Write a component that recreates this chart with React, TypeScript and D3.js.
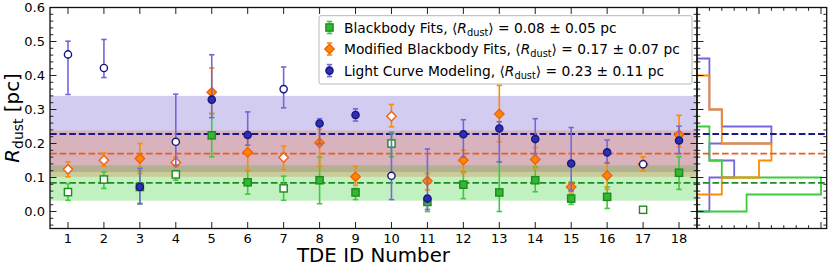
import React from 'react';
import * as d3 from 'd3';

// ---------- data ----------
const ids = [1, 2, 3, 4, 5, 6, 7, 8, 9, 10, 11, 12, 13, 14, 15, 16, 17, 18];
const openIds = [1, 2, 4, 7, 10, 17];

const bbVal = [0.057, 0.094, 0.072, 0.109, 0.224, 0.086, 0.068, 0.092, 0.056, 0.2, 0.028, 0.079, 0.056, 0.092, 0.038, 0.043, 0.005, 0.114];
const bbHi = [0.025, 0.022, 0.048, 0.012, 0.064, 0.035, 0.036, 0.068, 0.012, 0.034, 0.015, 0.038, 0.09, 0.039, 0.013, 0.029, 0, 0.047];
const bbLo = [0.024, 0.026, 0.048, 0.017, 0.063, 0.035, 0.035, 0.069, 0.021, 0.039, 0.028, 0.041, 0.056, 0.034, 0.017, 0.034, 0, 0.049];

const mbVal = [0.124, 0.151, 0.156, 0.144, 0.351, 0.174, 0.159, 0.202, 0.102, 0.28, 0.09, 0.151, 0.287, 0.153, 0.072, 0.106, 0.139, 0.226];
const mbHi = [0.022, 0.021, 0.044, 0.016, 0.071, 0.045, 0.033, 0.04, 0.031, 0.035, 0.022, 0.029, 0.084, 0.035, 0.015, 0.039, 0.022, 0.057];
const mbLo = [0.022, 0.018, 0.044, 0.013, 0.063, 0.053, 0.036, 0.069, 0.025, 0.031, 0.027, 0.037, 0.082, 0.029, 0.014, 0.041, 0.02, 0.036];

const lcVal = [0.462, 0.422, 0.072, 0.205, 0.329, 0.225, 0.36, 0.259, 0.284, 0.105, 0.038, 0.227, 0.244, 0.213, 0.141, 0.174, 0.139, 0.209];
const lcHi = [0.039, 0.084, 0.055, 0.14, 0.132, 0.068, 0.065, 0.014, 0.018, 0.125, 0.146, 0.043, 0.02, 0.06, 0.106, 0.036, 0.008, 0.042];
const lcLo = [0.118, 0.028, 0.05, 0.069, 0.053, 0.03, 0.055, 0.06, 0.018, 0.07, 0.032, 0.067, 0.098, 0.043, 0.08, 0.032, 0.009, 0.039];

const means = [0.084, 0.17, 0.228];
const stds = [0.052, 0.068, 0.112];

const binEdges = [0, 0.05, 0.1, 0.15, 0.2, 0.25, 0.3, 0.35, 0.4, 0.45];
const histBB = [4, 10, 2, 1, 1, 0, 0, 0, 0];
const histMB = [0, 2, 5, 6, 2, 2, 1, 1, 0];
const histLC = [1, 1, 3, 1, 6, 2, 1, 1, 1];

const xTicks = ids;
const yMajor = [0, 0.1, 0.2, 0.3, 0.4, 0.5, 0.6];
const histTicks = [1, 2, 3, 4, 5, 6, 7, 8, 9, 10];

// ---------- styles ----------
const FONT = 'DejaVu Sans, sans-serif';
const C = {
  bbFill: '#33b833', bbEdge: '#1f8a1f', bbErr: '#3ccc3c', bbMean: '#228b22', bbBand: '#32cd32', bbHist: '#3ccc3c',
  mbFill: '#ff8800', mbEdge: '#f06010', mbErr: '#ff8c00', mbMean: '#e8601e', mbBand: '#eb641e', mbHist: '#ff8c00',
  lcFill: '#2e2eb0', lcEdge: '#16167e', lcErr: '#7466dd', lcMean: '#1a1a8a', lcBand: '#6a5acd', lcHist: '#7466dd',
};

const L = 50, R = 697, T = 7.5, B = 228.5, HR = 826.7;

const x = d3.scaleLinear().domain([0.5, 18.5]).range([L, R]);
const y = d3.scaleLinear().domain([-0.05, 0.6]).range([B, T]);
const hx = d3.scaleLinear().domain([0, 10.46]).range([R, HR]);

const yMinor = d3.range(-0.04, 0.6001, 0.02).map((v) => Math.round(v * 100) / 100);

function Marker({ kind, cx, cy, open, fill, edge }: any) {
  const f = open ? '#ffffff' : fill;
  if (kind === 'square') {
    return <rect x={cx - 3.6} y={cy - 3.6} width={7.2} height={7.2} fill={f} stroke={edge} strokeWidth={1.4} />;
  }
  if (kind === 'diamond') {
    const r = 4.7;
    return <path d={`M${cx},${cy - r}L${cx + r},${cy}L${cx},${cy + r}L${cx - r},${cy}Z`} fill={f} stroke={edge} strokeWidth={1.4} />;
  }
  return <circle cx={cx} cy={cy} r={3.6} fill={f} stroke={edge} strokeWidth={1.4} />;
}

function ErrSeries({ vals, hi, lo, kind, fill, edge, err }: any) {
  return (
    <g>
      {ids.map((id, i) => {
        const cx = x(id);
        const y1 = y(vals[i] + hi[i]);
        const y2 = y(vals[i] - lo[i]);
        const hasErr = hi[i] > 0 || lo[i] > 0;
        return (
          <g key={id}>
            {hasErr && (
              <g stroke={err} strokeWidth={1.6}>
                <line x1={cx} x2={cx} y1={y1} y2={y2} />
                <line x1={cx - 2.7} x2={cx + 2.7} y1={y1} y2={y1} />
                <line x1={cx - 2.7} x2={cx + 2.7} y1={y2} y2={y2} />
              </g>
            )}
            <Marker kind={kind} cx={cx} cy={y(vals[i])} open={openIds.includes(id)} fill={fill} edge={edge} />
          </g>
        );
      })}
    </g>
  );
}

function stepPath(counts: number[]) {
  const pts: [number, number][] = [[hx(0), y(binEdges[0])]];
  counts.forEach((c, i) => {
    pts.push([hx(c), y(binEdges[i])]);
    pts.push([hx(c), y(binEdges[i + 1])]);
  });
  pts.push([hx(0), y(binEdges[binEdges.length - 1])]);
  return d3.line()(pts) as string;
}

function LegendRow({ cy, label, mean, std, kind, fill, edge, err }: any) {
  const mx = 329.5;
  return (
    <g>
      <g stroke={err} strokeWidth={1.6}>
        <line x1={mx} x2={mx} y1={cy - 6} y2={cy + 6} />
        <line x1={mx - 2.7} x2={mx + 2.7} y1={cy - 6} y2={cy - 6} />
        <line x1={mx - 2.7} x2={mx + 2.7} y1={cy + 6} y2={cy + 6} />
      </g>
      <Marker kind={kind} cx={mx} cy={cy} open={false} fill={fill} edge={edge} />
      <text x={344} y={cy + 5} fontSize={13.8} fontFamily={FONT} fill="#000">
        {label + ', \u27E8'}
        <tspan fontStyle="italic">R</tspan>
        <tspan fontSize={9.8} dy={3}>dust</tspan>
        <tspan dy={-3}>{'\u27E9 = ' + mean + ' \u00B1 ' + std + ' pc'}</tspan>
      </text>
    </g>
  );
}

export default function App() {
  const bandOrder = [2, 0, 1];
  const bandColors = [C.bbBand, C.mbBand, C.lcBand];
  const bandOpacity = [0.3, 0.25, 0.3];
  const meanColors = [C.bbMean, C.mbMean, C.lcMean];
  return (
    <svg width={830} height={270} style={{ position: 'absolute', left: 0, top: 0, background: '#fff' }} fontFamily={FONT}>
      <defs>
        <clipPath id="mainclip"><rect x={L} y={T} width={R - L} height={B - T} /></clipPath>
      </defs>
      {/* bands */}
      <g clipPath="url(#mainclip)">
        {bandOrder.map((k) => (
          <rect key={k} x={L} width={R - L} y={y(means[k] + stds[k])} height={y(means[k] - stds[k]) - y(means[k] + stds[k])}
            fill={bandColors[k]} fillOpacity={bandOpacity[k]} />
        ))}
      </g>
      {/* histograms */}
      <g fill="none" strokeWidth={1.8}>
        <path d={stepPath(histLC)} stroke={C.lcHist} />
        <path d={stepPath(histBB)} stroke={C.bbHist} />
        <path d={stepPath(histMB)} stroke={C.mbHist} />
      </g>
      {/* mean lines */}
      {means.map((m, k) => (
        <line key={k} x1={L} x2={HR} y1={y(m)} y2={y(m)} stroke={meanColors[k]} strokeWidth={1.8} strokeDasharray="6.7,2.9" />
      ))}
      {/* data */}
      <ErrSeries vals={bbVal} hi={bbHi} lo={bbLo} kind="square" fill={C.bbFill} edge={C.bbEdge} err={C.bbErr} />
      <ErrSeries vals={mbVal} hi={mbHi} lo={mbLo} kind="diamond" fill={C.mbFill} edge={C.mbEdge} err={C.mbErr} />
      <ErrSeries vals={lcVal} hi={lcHi} lo={lcLo} kind="circle" fill={C.lcFill} edge={C.lcEdge} err={C.lcErr} />

      {/* ticks main */}
      <g stroke="#222" strokeWidth={1}>
        {xTicks.map((t) => (
          <g key={t}>
            <line x1={x(t)} x2={x(t)} y1={B} y2={B - 6.5} />
            <line x1={x(t)} x2={x(t)} y1={T} y2={T + 6.5} />
          </g>
        ))}
        {yMinor.map((v) => {
          const major = yMajor.some((m) => Math.abs(m - v) < 1e-6);
          const len = major ? 6.5 : 3.3;
          return (
            <g key={v}>
              <line x1={L} x2={L + len} y1={y(v)} y2={y(v)} />
              <line x1={R} x2={R - len} y1={y(v)} y2={y(v)} />
              <line x1={R} x2={R + len} y1={y(v)} y2={y(v)} />
              <line x1={HR} x2={HR - len} y1={y(v)} y2={y(v)} />
            </g>
          );
        })}
        {histTicks.map((t) => {
          const len = t % 5 === 0 ? 6.5 : 3.3;
          return (
            <g key={t}>
              <line x1={hx(t)} x2={hx(t)} y1={B} y2={B - len} />
              <line x1={hx(t)} x2={hx(t)} y1={T} y2={T + len} />
            </g>
          );
        })}
      </g>
      {/* frames */}
      <rect x={L} y={T} width={R - L} height={B - T} fill="none" stroke="#111" strokeWidth={1.3} />
      <rect x={R} y={T} width={HR - R} height={B - T} fill="none" stroke="#111" strokeWidth={1.3} />

      {/* tick labels */}
      <g fontSize={13} fill="#000">
        {xTicks.map((t) => (
          <text key={t} x={x(t)} y={243} textAnchor="middle">{t}</text>
        ))}
        {yMajor.map((v) => (
          <text key={v} x={45} y={y(v) + 4.7} textAnchor="end">{v.toFixed(1)}</text>
        ))}
      </g>

      {/* axis labels */}
      <text x={(L + R) / 2} y={261.5} textAnchor="middle" fontSize={19.8} fill="#000">TDE ID Number</text>
      <text transform={`translate(18.5,${(T + B) / 2}) rotate(-90)`} textAnchor="middle" fontSize={19.8} fill="#000">
        <tspan fontStyle="italic">R</tspan>
        <tspan fontSize={14} dy={4}>dust</tspan>
        <tspan dy={-4}> [pc]</tspan>
      </text>

      {/* legend */}
      <rect x={319} y={15.7} width={373} height={68.3} rx={2} fill="#fff" fillOpacity={0.85} stroke="#b8b8b8" strokeWidth={1} />
      <LegendRow cy={27.5} label="Blackbody Fits" mean="0.08" std="0.05" kind="square" fill={C.bbFill} edge={C.bbEdge} err={C.bbErr} />
      <LegendRow cy={49} label="Modified Blackbody Fits" mean="0.17" std="0.07" kind="diamond" fill={C.mbFill} edge={C.mbEdge} err={C.mbErr} />
      <LegendRow cy={70.6} label="Light Curve Modeling" mean="0.23" std="0.11" kind="circle" fill={C.lcFill} edge={C.lcEdge} err={C.lcErr} />
    </svg>
  );
}
